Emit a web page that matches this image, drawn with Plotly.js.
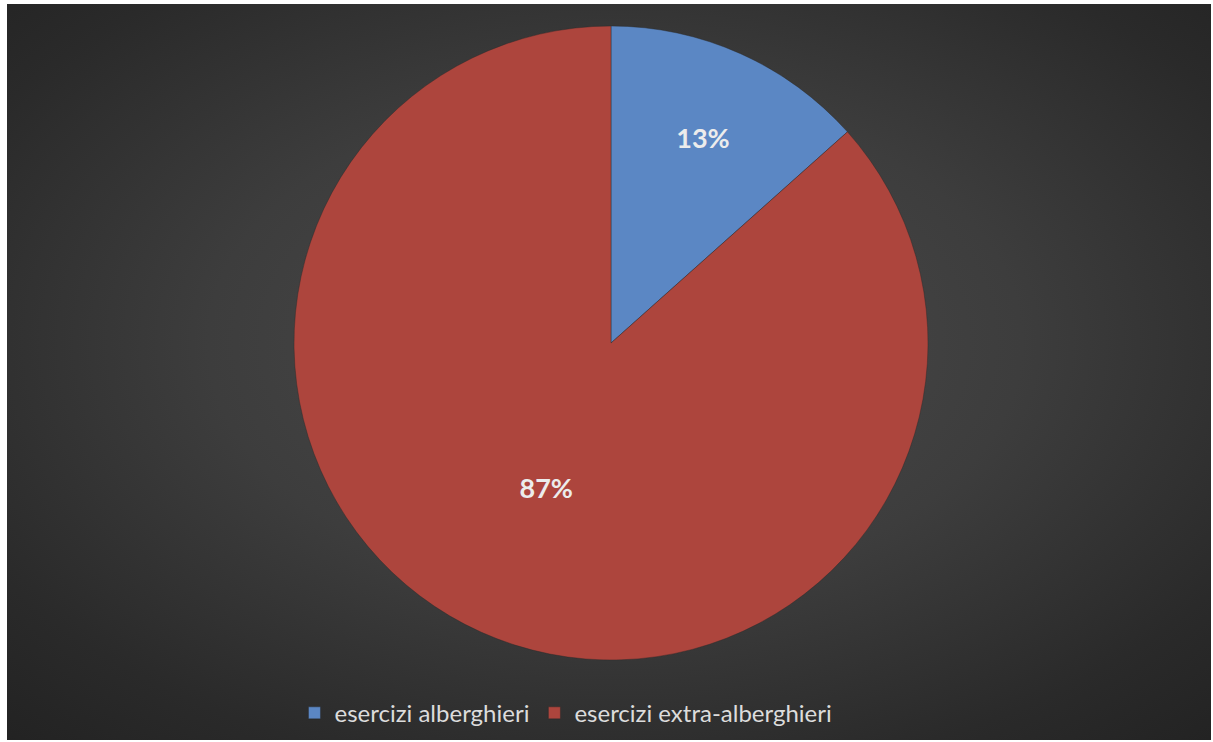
<!DOCTYPE html>
<html>
<head>
<meta charset="utf-8">
<script src="https://cdn.plot.ly/plotly-3.0.1.min.js"></script>
<style>
  html, body { margin: 0; padding: 0; background: #ffffff; }
  #frame {
    position: absolute; left: 7px; top: 4px; width: 1204px; height: 736px;
    background: radial-gradient(ellipse 75% 75% at 50.5% 46%, #4c4c4c 0%, #3d3d3d 45%, #2a2a2a 80%, #222222 100%);
  }
  #chart { position: absolute; left: 0; top: 0; width: 1213px; height: 742px; }
</style>
</head>
<body>
<div id="frame"></div>
<div id="chart"></div>
<script>
const categories = ["esercizi alberghieri", "esercizi extra-alberghieri"];
const shares = [13.4, 86.6];
const sliceColors = ["#5b87c4", "#ad453d"];

const data = [{
  type: "pie",
  labels: categories,
  values: shares,
  sort: false,
  direction: "clockwise",
  rotation: 0,
  marker: { colors: sliceColors, line: { color: "rgba(40,40,40,0.4)", width: 1 } },
  textinfo: "percent",
  textposition: "inside",
  insidetextorientation: "horizontal",
  texttemplate: "%{percent:.0%}",
  textfont: { family: "Lato", size: 27, color: "#ececec", weight: "bold" },
  hoverinfo: "label+percent"
}];

const layout = {
  width: 1213,
  height: 742,
  margin: { l: 9, r: 0, t: 26, b: 82 },
  paper_bgcolor: "rgba(0,0,0,0)",
  plot_bgcolor: "rgba(0,0,0,0)",
  showlegend: true,
  legend: {
    orientation: "h",
    x: 0.4626, xanchor: "center",
    y: -0.084, yanchor: "middle",
    font: { family: "Lato", size: 24, color: "#dcdcdc" },
    itemwidth: 30,
    bgcolor: "rgba(0,0,0,0)"
  }
};

Plotly.newPlot("chart", data, layout, { displayModeBar: false, staticPlot: true });
</script>
</body>
</html>
